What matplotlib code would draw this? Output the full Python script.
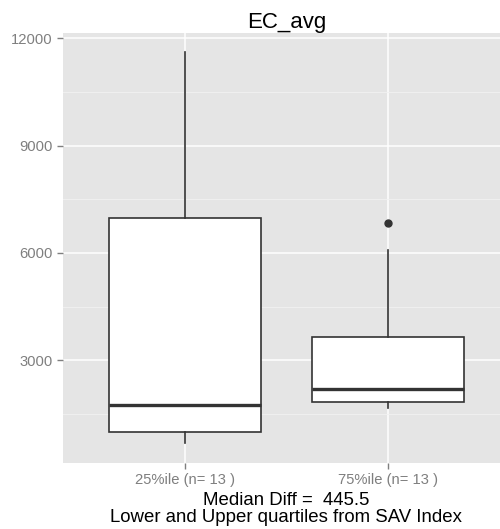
import matplotlib.pyplot as plt

# box statistics
labels = ["25%ile (n= 13 )", "75%ile (n= 13 )"]
lower_whisker = [680, 1660]
q1 = [990, 1826]
median = [1742, 2190]
q3 = [6990, 3640]
upper_whisker = [11600, 6075]
outliers = [[], [6830]]

y_ticks = [3000, 6000, 9000, 12000]
title = "EC_avg"
footer = "Median Diff =  445.5\nLower and Upper quartiles from SAV Index"

plt.rcParams["font.family"] = ["Liberation Sans", "DejaVu Sans"]

fig = plt.figure(figsize=(5, 5.29), dpi=100)
ax = fig.add_axes([0.126, 0.1248, 0.894, 0.813])
ax.set_facecolor("#E5E5E5")

stats = []
for i in range(len(labels)):
    stats.append({
        "whislo": lower_whisker[i], "q1": q1[i], "med": median[i],
        "q3": q3[i], "whishi": upper_whisker[i], "fliers": outliers[i],
    })

line_col = "#333333"
ax.bxp(stats, positions=[1, 2], widths=0.75, showcaps=False, patch_artist=True,
       boxprops=dict(facecolor="white", edgecolor=line_col, linewidth=1.2),
       whiskerprops=dict(color=line_col, linewidth=1.2),
       medianprops=dict(color=line_col, linewidth=2.4),
       flierprops=dict(marker="o", markerfacecolor=line_col, markeredgecolor=line_col,
                       markersize=5),
       zorder=3)

# ggplot-like range with 5% expansion
lo = min(lower_whisker)
hi = max(upper_whisker + [v for o in outliers for v in o])
pad = (hi - lo) * 0.05
ax.set_ylim(lo - pad, hi + pad)
ax.set_xlim(0.4, 2.6)

ax.set_yticks(y_ticks)
ax.set_yticklabels([str(t) for t in y_ticks])
ax.set_yticks([1500, 4500, 7500, 10500], minor=True)
ax.set_xticks([1, 2])
ax.set_xticklabels(labels)

ax.grid(which="major", color="white", linewidth=1.1, zorder=0)
ax.grid(which="minor", axis="y", color="#F2F2F2", linewidth=0.6, zorder=0)
ax.set_axisbelow(True)
ax.tick_params(which="minor", length=0)
ax.tick_params(which="major", length=4, color="#7F7F7F", labelcolor="#7F7F7F",
               labelsize=10.6, width=1)
ax.tick_params(axis="x", pad=3)

for s in ax.spines.values():
    s.set_visible(False)

ax.text(0.5, 1.0, title, transform=ax.transAxes, ha="center", va="bottom",
        fontsize=16)
fig.text(286 / 500, 1 - 509 / 529, footer, ha="center", va="center",
         fontsize=13.4, linespacing=0.95)

fig.savefig("out.png", dpi=100)
